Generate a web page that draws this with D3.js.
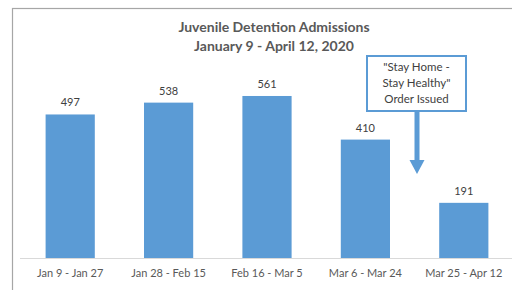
<!DOCTYPE html>
<html>
<head>
<meta charset="utf-8">
<script src="https://cdn.jsdelivr.net/npm/d3@7"></script>
<style>
  body { margin: 0; background: #fff; }
  svg { display: block; font-family: Lato, "Open Sans", sans-serif; }
</style>
</head>
<body>
<div class="chart"></div>
<script>
// data
var periods = ["Jan 9 - Jan 27", "Jan 28 - Feb 15", "Feb 16 - Mar 5", "Mar 6 - Mar 24", "Mar 25 - Apr 12"];
var admissions = [497, 538, 561, 410, 191];
var titleLines = ["Juvenile Detention Admissions", "January 9 - April 12, 2020"];
var noteLines = ["\"Stay Home -", "Stay Healthy\"", "Order  Issued"];

var width = 512, height = 290;
var baseY = 258;

var svg = d3.select(".chart")
  .append("svg")
    .attr("width", width)
    .attr("height", height);

// outer frame (cropped on right and bottom)
svg.append("rect")
  .attr("x", 12.5).attr("y", 8.5)
  .attr("width", 620).attr("height", 400)
  .attr("fill", "none")
  .attr("stroke", "#a6a6a6")
  .attr("stroke-width", 1.2);

var x = d3.scaleBand()
  .domain(periods)
  .range([21, 513])
  .paddingInner(0.5)
  .paddingOuter(0.25);

var y = d3.scaleLinear()
  .domain([0, 600])
  .range([baseY, baseY - 600 * 0.2888]);

// title
svg.selectAll(".title")
  .data(titleLines)
  .enter().append("text")
    .attr("class", "title")
    .attr("x", 274)
    .attr("y", function(d, i) { return 32 + i * 19; })
    .attr("text-anchor", "middle")
    .attr("font-size", 14)
    .attr("font-weight", "bold")
    .attr("fill", "#595959")
    .text(function(d) { return d; });

// bars
svg.selectAll(".bar")
  .data(admissions)
  .enter().append("rect")
    .attr("class", "bar")
    .attr("x", function(d, i) { return x(periods[i]); })
    .attr("y", function(d) { return y(d); })
    .attr("width", x.bandwidth())
    .attr("height", function(d) { return baseY - y(d); })
    .attr("fill", "#5b9bd5");

// value labels
svg.selectAll(".val")
  .data(admissions)
  .enter().append("text")
    .attr("class", "val")
    .attr("x", function(d, i) { return x(periods[i]) + x.bandwidth() / 2; })
    .attr("y", function(d) { return y(d) - 8; })
    .attr("text-anchor", "middle")
    .attr("font-size", 11)
    .attr("fill", "#404040")
    .text(function(d) { return d; });

// x axis
var xAxis = svg.append("g")
  .attr("transform", "translate(0," + baseY + ")")
  .call(d3.axisBottom(x).tickSize(0).tickPadding(11));
xAxis.select(".domain")
  .attr("stroke", "#d9d9d9")
  .attr("d", "M20,0.5H520");
xAxis.selectAll("text")
  .attr("font-family", "Lato, sans-serif")
  .attr("font-size", 11)
  .attr("fill", "#595959");

// annotation box
var note = svg.append("g");
note.append("rect")
  .attr("x", 367).attr("y", 56)
  .attr("width", 99).attr("height", 55)
  .attr("fill", "#fff")
  .attr("stroke", "#5b9bd5")
  .attr("stroke-width", 2);
note.selectAll("text")
  .data(noteLines)
  .enter().append("text")
    .attr("x", 416.5)
    .attr("y", function(d, i) { return 71 + i * 16; })
    .attr("text-anchor", "middle")
    .attr("font-size", 11.5)
    .attr("fill", "#404040")
    .text(function(d) { return d; });

// arrow
note.append("rect")
  .attr("x", 414.5).attr("y", 112)
  .attr("width", 5).attr("height", 50)
  .attr("fill", "#5b9bd5");
note.append("path")
  .attr("d", "M409.5,160 L424.5,160 L417,174 Z")
  .attr("fill", "#5b9bd5");
</script>
</body>
</html>
